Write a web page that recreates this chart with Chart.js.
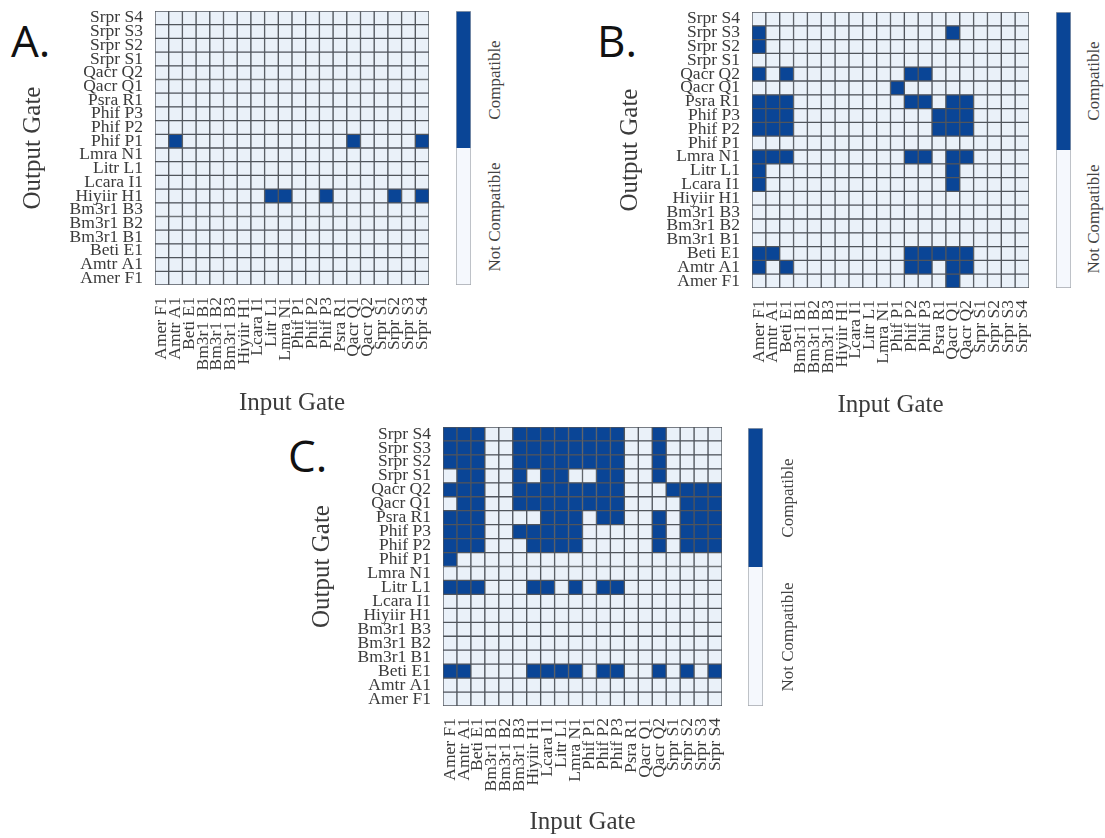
<!DOCTYPE html>
<html lang="en">
<head>
<meta charset="utf-8">
<title>Gate compatibility</title>
<script src="https://cdn.jsdelivr.net/npm/chart.js@4.4.1/dist/chart.umd.min.js"></script>
<style>
  html, body { margin: 0; padding: 0; background: #ffffff; }
  #page { position: relative; width: 1105px; height: 838px; overflow: hidden; background: #ffffff; }
  #page canvas { position: absolute; }
  .tag { position: absolute; font-family: 'Open Sans', 'Liberation Sans', sans-serif; font-size: 44px; line-height: 1; color: #111111; }
  .cb-text { position: absolute; font-family: 'Liberation Serif', 'Times New Roman', serif; font-size: 17px; line-height: 1; color: #444444; white-space: nowrap; transform: translate(-50%, -50%) rotate(-90deg); }
</style>
</head>
<body>
<div id="page">
  <div class="tag" style="left:11px;top:18px">A.</div>
  <div class="tag" style="left:597px;top:18px">B.</div>
  <div class="tag" style="left:288px;top:433px">C.</div>
  <canvas id="heatA" width="445" height="420" style="left:0px;top:0px"></canvas>
  <canvas id="heatB" width="450" height="420" style="left:595px;top:0px"></canvas>
  <canvas id="heatC" width="445" height="423" style="left:290px;top:415px"></canvas>
  <canvas id="barA" width="30" height="300" style="left:450px;top:0px"></canvas>
  <canvas id="barB" width="30" height="300" style="left:1050px;top:0px"></canvas>
  <canvas id="barC" width="30" height="300" style="left:742px;top:415px"></canvas>
</div>
<script>
// Genetic gates, used for both the input (x) and output (y) axes
const gates = [
  'Amer F1', 'Amtr A1', 'Beti E1', 'Bm3r1 B1', 'Bm3r1 B2', 'Bm3r1 B3',
  'Hiyiir H1', 'Lcara I1', 'Litr L1', 'Lmra N1', 'Phif P1', 'Phif P2',
  'Phif P3', 'Psra R1', 'Qacr Q1', 'Qacr Q2', 'Srpr S1', 'Srpr S2',
  'Srpr S3', 'Srpr S4'
];

// One string per output gate, in `gates` order (Amer F1 first).
// Character c is input gate c: '1' = compatible, '0' = not compatible.
const panelA = [
  '00000000000000000000', // Amer F1
  '00000000000000000000', // Amtr A1
  '00000000000000000000', // Beti E1
  '00000000000000000000', // Bm3r1 B1
  '00000000000000000000', // Bm3r1 B2
  '00000000000000000000', // Bm3r1 B3
  '00000000110010000101', // Hiyiir H1
  '00000000000000000000', // Lcara I1
  '00000000000000000000', // Litr L1
  '00000000000000000000', // Lmra N1
  '01000000000000100001', // Phif P1
  '00000000000000000000', // Phif P2
  '00000000000000000000', // Phif P3
  '00000000000000000000', // Psra R1
  '00000000000000000000', // Qacr Q1
  '00000000000000000000', // Qacr Q2
  '00000000000000000000', // Srpr S1
  '00000000000000000000', // Srpr S2
  '00000000000000000000', // Srpr S3
  '00000000000000000000'  // Srpr S4
];

const panelB = [
  '00000000000000100000', // Amer F1
  '10100000000110110000', // Amtr A1
  '11000000000111110000', // Beti E1
  '00000000000000000000', // Bm3r1 B1
  '00000000000000000000', // Bm3r1 B2
  '00000000000000000000', // Bm3r1 B3
  '00000000000000000000', // Hiyiir H1
  '10000000000000100000', // Lcara I1
  '10000000000000100000', // Litr L1
  '11100000000110110000', // Lmra N1
  '00000000000000000000', // Phif P1
  '11100000000001110000', // Phif P2
  '11100000000001110000', // Phif P3
  '11100000000110110000', // Psra R1
  '00000000001000000000', // Qacr Q1
  '10100000000110000000', // Qacr Q2
  '00000000000000000000', // Srpr S1
  '10000000000000000000', // Srpr S2
  '10000000000000100000', // Srpr S3
  '00000000000000000000'  // Srpr S4
];

const panelC = [
  '00000000000000000000', // Amer F1
  '00000000000000000000', // Amtr A1
  '11000011110110010101', // Beti E1
  '00000000000000000000', // Bm3r1 B1
  '00000000000000000000', // Bm3r1 B2
  '00000000000000000000', // Bm3r1 B3
  '00000000000000000000', // Hiyiir H1
  '00000000000000000000', // Lcara I1
  '11100011010110000000', // Litr L1
  '00000000000000000000', // Lmra N1
  '10000000000000000000', // Phif P1
  '11100011110000010111', // Phif P2
  '11100111110000010111', // Phif P3
  '11100001110110010111', // Psra R1
  '01100111111110000111', // Qacr Q1
  '11100111111110001111', // Qacr Q2
  '01100101100110010000', // Srpr S1
  '11100111111110010000', // Srpr S2
  '11100111111110010000', // Srpr S3
  '11100111111110010000'  // Srpr S4
];

// Colour-bar categories, bottom to top
const states = ['Not Compatible', 'Compatible'];

const BLUE = '#0a4596';
const PALE = '#eaf1f9';
const PALE_BAR = '#f5f8fd';
const EDGE = '#50555c';
const FRAME = '#a3a7ad';
const INK = '#3b3b3b';
const SERIF = "'Liberation Serif', 'Times New Roman', serif";

// Drop the extra room Chart.js reserves for overhanging labels so the grid sits where it is placed
const noPad = s => { s.paddingLeft = 0; s.paddingRight = 0; s.paddingTop = 0; s.paddingBottom = 0; };

function heatmap(canvasId, rows, geo) {
  // One floating-bar dataset per output gate; each bar spans [row, row + 1] on the y scale
  const datasets = rows.map((row, r) => ({
    label: gates[r],
    data: gates.map(() => [r, r + 1]),
    backgroundColor: Array.from(row, v => (v === '1' ? BLUE : PALE)),
    borderColor: EDGE,
    borderWidth: 1,
    borderSkipped: false,
    grouped: false,
    barPercentage: 1,
    categoryPercentage: 1
  }));

  return new Chart(document.getElementById(canvasId), {
    type: 'bar',
    data: { labels: gates, datasets },
    options: {
      responsive: false,
      animation: false,
      events: [],
      layout: { padding: { left: 0, top: geo.top, right: geo.right, bottom: 0 } },
      plugins: { legend: { display: false }, tooltip: { enabled: false } },
      scales: {
        x: {
          type: 'category',
          offset: true,
          grid: { display: false, drawTicks: false },
          border: { display: false },
          ticks: {
            autoSkip: false, minRotation: 90, maxRotation: 90, padding: 12,
            color: INK, font: { family: SERIF, size: 17.5 }
          },
          title: {
            display: true, text: 'Input Gate', color: INK,
            font: { family: SERIF, size: 25 }, padding: { top: 0, bottom: geo.xTitle }
          },
          afterFit: s => { s.height = geo.xAxis; noPad(s); }
        },
        y: {
          type: 'linear',
          min: 0,
          max: gates.length,
          grid: { display: false, drawTicks: false },
          border: { display: false },
          afterBuildTicks: s => { s.ticks = gates.map((_, i) => ({ value: i + 0.5 })); },
          ticks: {
            autoSkip: false, padding: 12, color: INK,
            font: { family: SERIF, size: 17.5 },
            callback: (v, i) => gates[i]
          },
          title: {
            display: true, text: 'Output Gate', color: INK,
            font: { family: SERIF, size: 25 }, padding: { top: geo.yTitle, bottom: 0 }
          },
          afterFit: s => { s.width = geo.yAxis; noPad(s); }
        }
      }
    }
  });
}

function colorbar(canvasId, pad, labelX, canvasTop) {
  const chart = new Chart(document.getElementById(canvasId), {
    type: 'bar',
    data: {
      labels: [''],
      datasets: [
        { label: states[0], data: [[0, 1]], backgroundColor: PALE_BAR, borderColor: FRAME,
          borderWidth: 1, borderSkipped: 'top', grouped: false, barPercentage: 1, categoryPercentage: 1 },
        { label: states[1], data: [[1, 2]], backgroundColor: BLUE, borderColor: FRAME,
          borderWidth: 1, borderSkipped: 'bottom', grouped: false, barPercentage: 1, categoryPercentage: 1 }
      ]
    },
    options: {
      responsive: false,
      animation: false,
      events: [],
      layout: { padding: pad },
      plugins: { legend: { display: false }, tooltip: { enabled: false } },
      scales: {
        x: { display: false },
        y: { display: false, min: 0, max: states.length }
      }
    }
  });
  // Category names beside the middle of each colour band
  const page = document.getElementById('page');
  states.forEach((name, i) => {
    const el = document.createElement('div');
    el.className = 'cb-text';
    el.textContent = name;
    el.style.left = labelX + 'px';
    el.style.top = (canvasTop + chart.scales.y.getPixelForValue(i + 0.5)) + 'px';
    page.appendChild(el);
  });
  return chart;
}

heatmap('heatA', panelA, { top: 11, right: 16, yAxis: 155, xAxis: 135, yTitle: 18, xTitle: 2 });
heatmap('heatB', panelB, { top: 12, right: 16, yAxis: 157, xAxis: 132, yTitle: 20, xTitle: 0 });
heatmap('heatC', panelC, { top: 12, right: 13, yAxis: 153, xAxis: 132, yTitle: 17, xTitle: 1 });

colorbar('barA', { left: 6, right: 9, top: 11, bottom: 15 }, 494, 0);
colorbar('barB', { left: 6, right: 9, top: 12, bottom: 12 }, 1093, 0);
colorbar('barC', { left: 6, right: 9, top: 13, bottom: 9 }, 787, 415);
</script>
</body>
</html>
